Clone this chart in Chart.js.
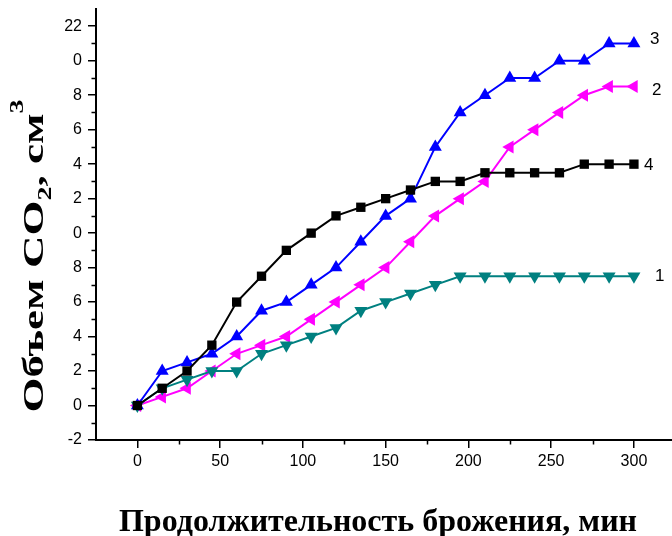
<!DOCTYPE html>
<html>
<head>
<meta charset="utf-8">
<script src="https://cdn.jsdelivr.net/npm/chart.js@4.4.1/dist/chart.umd.min.js"></script>
<style>
  html, body { margin: 0; padding: 0; background: #fff; }
  #wrap { width: 672px; height: 536px; }
</style>
</head>
<body>
<div id="wrap"><canvas id="myChart" width="672" height="536"></canvas></div>
<script>
// time, min
const times = [0, 15, 30, 45, 60, 75, 90, 105, 120, 135, 150, 165, 180, 195, 210, 225, 240, 255, 270, 285, 300];

// CO2 volume, cm3
const series1 = [0, 1, 1.5, 2, 2, 3, 3.5, 4, 4.5, 5.5, 6, 6.5, 7, 7.5, 7.5, 7.5, 7.5, 7.5, 7.5, 7.5, 7.5];
const series2 = [0, 0.5, 1, 2, 3, 3.5, 4, 5, 6, 7, 8, 9.5, 11, 12, 13, 15, 16, 17, 18, 18.5, 18.5];
const series3 = [0, 2, 2.5, 3, 4, 5.5, 6, 7, 8, 9.5, 11, 12, 15, 17, 18, 19, 19, 20, 20, 21, 21];
const series4 = [0, 1, 2, 3.5, 6, 7.5, 9, 10, 11, 11.5, 12, 12.5, 13, 13, 13.5, 13.5, 13.5, 13.5, 14, 14, 14];

const curveNames = ['4', '3', '1', '2'];

// tick values and the labels as printed on the picture
const yTicks = [22, 20, 18, 16, 14, 12, 10, 8, 6, 4, 2, 0, -2];
const yTickLabels = ['22', '0', '8', '6', '4', '2', '0', '8', '6', '4', '2', '0', '-2'];
const yMinor = [21, 19, 17, 15, 13, 11, 9, 7, 5, 3, 1, -1];
const xTicks = [0, 50, 100, 150, 200, 250, 300];
const xMinor = [25, 75, 125, 175, 225, 275];

const toPts = (arr) => arr.map((v, i) => ({ x: times[i], y: v }));

// where the curve numbers sit, relative to the last point of each curve
const labelOffsets = [[10, 1], [16, -4], [21, 0], [18, 4]];

const serif = '"Liberation Serif", "Times New Roman", serif';

const extras = {
  id: 'extras',
  afterDraw(chart) {
    const c = chart.ctx;
    const xs = chart.scales.x, ys = chart.scales.y;
    c.save();
    c.strokeStyle = '#000';
    c.lineWidth = 1.5;
    c.beginPath();
    yMinor.forEach(v => {
      const p = Math.round(ys.getPixelForValue(v)) + 0.5;
      c.moveTo(xs.left - 4.5, p); c.lineTo(xs.left, p);
    });
    xMinor.forEach(v => {
      const p = Math.round(xs.getPixelForValue(v)) + 0.5;
      c.moveTo(p, ys.bottom); c.lineTo(p, ys.bottom + 4.5);
    });
    c.stroke();

    // curve numbers
    c.fillStyle = '#000';
    c.font = '17px "Liberation Sans", Arial, sans-serif';
    c.textAlign = 'left';
    c.textBaseline = 'middle';
    chart.data.datasets.forEach((ds, i) => {
      const last = ds.data[ds.data.length - 1];
      const px = xs.getPixelForValue(last.x) + labelOffsets[i][0];
      const py = ys.getPixelForValue(last.y) + labelOffsets[i][1];
      c.fillText(curveNames[i], px, py);
    });

    // x title
    c.font = 'bold 32px ' + serif;
    c.textAlign = 'center';
    c.textBaseline = 'alphabetic';
    c.fillText('Продолжительность брожения, мин', 378, 531);

    // y title with sub/superscript, stretched along its length like the original
    const parts = [
      { t: 'Объем CO', s: 29, dy: 0 },
      { t: '2', s: 18, dy: 8 },
      { t: ', см', s: 29, dy: 0 },
      { t: '3', s: 18, dy: -20 }
    ];
    let total = 0;
    parts.forEach(p => {
      c.font = 'bold ' + p.s + 'px ' + serif;
      p.w = c.measureText(p.t).width;
      total += p.w;
    });
    const stretch = 313 / total;
    c.translate(43, 256);
    c.rotate(-Math.PI / 2);
    c.scale(stretch, 1);
    c.textAlign = 'left';
    let x0 = -total / 2;
    parts.forEach(p => {
      c.font = 'bold ' + p.s + 'px ' + serif;
      c.fillText(p.t, x0, p.dy);
      x0 += p.w;
    });
    c.restore();
  }
};

const ctx = document.getElementById('myChart').getContext('2d');
const myChart = new Chart(ctx, {
  type: 'line',
  data: {
    datasets: [
      {
        label: '4',
        data: toPts(series4),
        borderColor: '#000000',
        backgroundColor: '#000000',
        borderWidth: 2,
        pointStyle: 'rect',
        pointRadius: 6.6,
        pointBorderWidth: 0,
      },
      {
        label: '3',
        data: toPts(series3),
        borderColor: '#0000ff',
        backgroundColor: '#0000ff',
        borderWidth: 2,
        pointStyle: 'triangle',
        pointRadius: 7.5,
        pointBorderWidth: 0,
      },
      {
        label: '1',
        data: toPts(series1),
        borderColor: '#008080',
        backgroundColor: '#008080',
        borderWidth: 2,
        pointStyle: 'triangle',
        pointRotation: 180,
        pointRadius: 7.5,
        pointBorderWidth: 0,
      },
      {
        label: '2',
        data: toPts(series2),
        borderColor: '#ff00ff',
        backgroundColor: '#ff00ff',
        borderWidth: 2,
        pointStyle: 'triangle',
        pointRotation: 270,
        pointRadius: 7.5,
        pointBorderWidth: 0,
      },
    ],
  },
  options: {
    responsive: false,
    animation: false,
    layout: { autoPadding: false, padding: { top: 9, left: 0, right: 0, bottom: 0 } },
    plugins: { legend: { display: false }, tooltip: { enabled: false } },
    elements: { line: { tension: 0 } },
    scales: {
      x: {
        type: 'linear',
        min: -25,
        max: 323,
        afterBuildTicks: (s) => { s.ticks = xTicks.map(v => ({ value: v })); },
        afterFit: (s) => { s.height = 96; s.paddingLeft = 0; s.paddingRight = 0; },
        ticks: {
          color: '#000',
          padding: 4,
          font: { family: '"Liberation Sans", Arial, sans-serif', size: 16 },
        },
        grid: { drawOnChartArea: false, drawTicks: true, tickLength: 8, color: '#000', lineWidth: 1.5 },
        border: { display: true, color: '#000', width: 2 },
      },
      y: {
        type: 'linear',
        min: -2,
        max: 23,
        afterBuildTicks: (s) => { s.ticks = yTicks.map(v => ({ value: v })); },
        afterFit: (s) => { s.width = 96; s.paddingTop = 0; s.paddingBottom = 0; },
        ticks: {
          color: '#000',
          padding: 6,
          font: { family: '"Liberation Sans", Arial, sans-serif', size: 16 },
          callback: (v) => {
            const i = yTicks.indexOf(v);
            return i >= 0 ? yTickLabels[i] : '';
          },
        },
        grid: { drawOnChartArea: false, drawTicks: true, tickLength: 8, color: '#000', lineWidth: 1.5 },
        border: { display: true, color: '#000', width: 2 },
      },
    },
  },
  plugins: [extras],
});
</script>
</body>
</html>
